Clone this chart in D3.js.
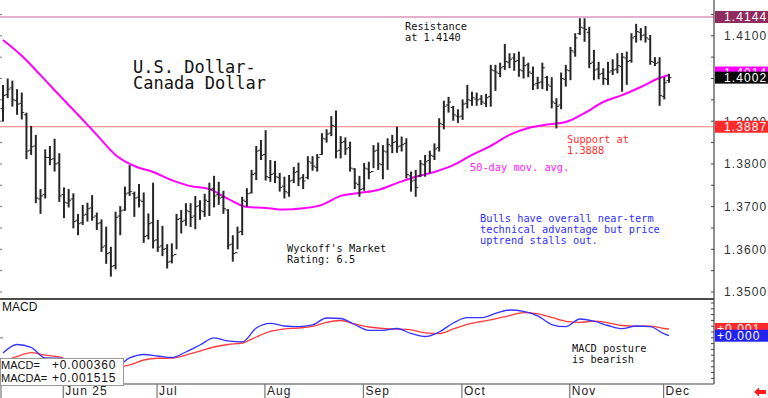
<!DOCTYPE html>
<html>
<head>
<meta charset="utf-8">
<script src="https://cdn.jsdelivr.net/npm/d3@7"></script>
<style>
body { margin: 0; background: #fff; }
svg { display: block; font-family: "Liberation Sans", Arial, sans-serif; }
.note { font-family: "DejaVu Sans Mono", monospace; font-size: 10.3px; }
.axis-label { font-size: 12px; letter-spacing: 1.1px; fill: #333; }
.box-label { font-size: 11px; letter-spacing: 0px; fill: #111; }
.box-value { font-size: 12px; letter-spacing: 0.8px; fill: #111; }
</style>
</head>
<body>
<svg width="768" height="398"></svg>
<script>
// daily OHLC bars, index 0 = mid May, last bar = Dec 2
var barHigh = [1.3985,1.4000,1.3995,1.3975,1.3967,1.3920,1.3889,1.3868,1.3741,1.3834,
  1.3842,1.3859,1.3825,1.3745,1.3741,1.3731,1.3683,1.3704,1.3709,1.3727,
  1.3686,1.3670,1.3653,1.3606,1.3688,1.3701,1.3747,1.3797,1.3735,1.3753,
  1.3733,1.3684,1.3756,1.3669,1.3655,1.3612,1.3614,1.3683,1.3692,1.3708,
  1.3708,1.3725,1.3715,1.3730,1.3756,1.3772,1.3758,1.3737,1.3694,1.3633,
  1.3653,1.3723,1.3743,1.3786,1.3842,1.3856,1.3879,1.3809,1.3807,1.3779,
  1.3770,1.3774,1.3793,1.3803,1.3776,1.3818,1.3818,1.3823,1.3872,1.3881,
  1.3912,1.3925,1.3865,1.3862,1.3852,1.3790,1.3772,1.3802,1.3805,1.3844,
  1.3850,1.3844,1.3860,1.3868,1.3887,1.3864,1.3860,1.3782,1.3786,1.3809,
  1.3821,1.3831,1.3848,1.3907,1.3948,1.3957,1.3936,1.3928,1.3951,1.3985,
  1.3969,1.3967,1.3961,1.3964,1.4032,1.4032,1.4037,1.4081,1.4059,1.4059,
  1.4063,1.4051,1.4037,1.4028,1.4004,1.4037,1.4006,1.4003,1.3954,1.4014,
  1.4032,1.4074,1.4106,1.4141,1.4141,1.4121,1.4067,1.4039,1.4024,1.4039,
  1.4045,1.4059,1.4060,1.4063,1.4106,1.4128,1.4118,1.4123,1.4102,1.4050,
  1.4050,1.4003,1.4011];
var barLow = [1.3899,1.3954,1.3934,1.3915,1.3904,1.3811,1.3821,1.3708,1.3683,1.3719,
  1.3797,1.3782,1.3711,1.3673,1.3698,1.3649,1.3633,1.3657,1.3665,1.3667,
  1.3645,1.3594,1.3566,1.3536,1.3553,1.3633,1.3690,1.3725,1.3676,1.3698,
  1.3615,1.3623,1.3602,1.3594,1.3584,1.3555,1.3567,1.3600,1.3637,1.3655,
  1.3652,1.3647,1.3669,1.3676,1.3678,1.3698,1.3704,1.3683,1.3600,1.3571,
  1.3600,1.3633,1.3700,1.3731,1.3762,1.3809,1.3761,1.3758,1.3755,1.3735,
  1.3719,1.3723,1.3755,1.3748,1.3741,1.3764,1.3784,1.3782,1.3821,1.3850,
  1.3865,1.3813,1.3813,1.3821,1.3782,1.3741,1.3723,1.3737,1.3764,1.3790,
  1.3786,1.3764,1.3786,1.3825,1.3826,1.3829,1.3766,1.3735,1.3723,1.3769,
  1.3770,1.3778,1.3809,1.3829,1.3881,1.3920,1.3901,1.3896,1.3903,1.3930,
  1.3936,1.3936,1.3938,1.3933,1.3934,1.3971,1.4003,1.4020,1.4024,1.4018,
  1.4004,1.4000,1.4003,1.3973,1.3975,1.3975,1.3971,1.3930,1.3883,1.3928,
  1.3981,1.3996,1.4051,1.4102,1.4086,1.4024,1.3996,1.3998,1.3985,1.3985,
  1.4008,1.4012,1.3969,1.3985,1.4037,1.4084,1.4089,1.4084,1.4032,1.4029,
  1.3936,1.3951,1.3990];
var barOpen = [1.3930,1.3962,1.3978,1.3948,1.3942,1.3915,1.3832,1.3842,1.3718,1.3728,
  1.3815,1.3812,1.3802,1.3728,1.3708,1.3718,1.3668,1.3662,1.3682,1.3697,
  1.3678,1.3662,1.3608,1.3592,1.3562,1.3678,1.3692,1.3732,1.3730,1.3722,
  1.3712,1.3632,1.3662,1.3622,1.3608,1.3602,1.3572,1.3588,1.3672,1.3668,
  1.3688,1.3678,1.3702,1.3688,1.3712,1.3742,1.3728,1.3722,1.3692,1.3612,
  1.3592,1.3642,1.3712,1.3732,1.3778,1.3832,1.3822,1.3768,1.3778,1.3768,
  1.3748,1.3732,1.3762,1.3782,1.3768,1.3768,1.3802,1.3792,1.3822,1.3858,
  1.3872,1.3888,1.3832,1.3852,1.3838,1.3788,1.3752,1.3742,1.3788,1.3782,
  1.3832,1.3798,1.3828,1.3842,1.3852,1.3842,1.3848,1.3772,1.3762,1.3772,
  1.3798,1.3808,1.3818,1.3838,1.3892,1.3938,1.3932,1.3912,1.3912,1.3942,
  1.3948,1.3952,1.3952,1.3942,1.3958,1.4018,1.4012,1.4028,1.4038,1.4048,
  1.4042,1.4018,1.4032,1.4012,1.3988,1.3992,1.4002,1.3982,1.3942,1.3938,
  1.3998,1.4018,1.4062,1.4105,1.4118,1.4108,1.4038,1.4022,1.4012,1.3998,
  1.4018,1.4022,1.4028,1.4048,1.4042,1.4098,1.4108,1.4102,1.4092,1.4038,
  1.4038,1.3958,1.3995];
var barClose = [1.3960,1.3975,1.3950,1.3940,1.3920,1.3830,1.3840,1.3720,1.3725,1.3815,
  1.3810,1.3800,1.3725,1.3710,1.3715,1.3665,1.3660,1.3680,1.3695,1.3675,
  1.3660,1.3605,1.3590,1.3560,1.3675,1.3690,1.3730,1.3735,1.3720,1.3715,
  1.3630,1.3660,1.3620,1.3605,1.3600,1.3570,1.3585,1.3670,1.3665,1.3690,
  1.3675,1.3700,1.3690,1.3715,1.3740,1.3725,1.3720,1.3695,1.3610,1.3590,
  1.3640,1.3715,1.3730,1.3775,1.3830,1.3820,1.3770,1.3775,1.3770,1.3745,
  1.3735,1.3760,1.3780,1.3765,1.3760,1.3805,1.3795,1.3815,1.3860,1.3870,
  1.3890,1.3830,1.3850,1.3835,1.3790,1.3755,1.3740,1.3790,1.3780,1.3830,
  1.3800,1.3830,1.3845,1.3850,1.3840,1.3845,1.3775,1.3760,1.3745,1.3800,
  1.3805,1.3820,1.3835,1.3895,1.3935,1.3945,1.3915,1.3910,1.3940,1.3950,
  1.3955,1.3950,1.3945,1.3955,1.4020,1.4015,1.4025,1.4040,1.4045,1.4040,
  1.4020,1.4030,1.4015,1.3985,1.3990,1.4025,1.3985,1.3945,1.3935,1.4000,
  1.4020,1.4065,1.4095,1.4120,1.4115,1.4035,1.4020,1.4010,1.4000,1.4015,
  1.4020,1.4030,1.4050,1.4040,1.4095,1.4110,1.4100,1.4095,1.4040,1.4035,
  1.3960,1.3990,1.4002];

// 50-day moving average, read every 4 bars
var maIndex = [0,4,8,12,16,20,24,28,32,36,40,44,48,52,56,60,64,68,72,76,80,84,88,92,96,100,
  104,108,112,116,120,124,128,132,136,140,142];
var maValue = [1.4090,1.4053,1.4008,1.3961,1.3915,1.3868,1.3821,1.3795,1.3781,1.3762,1.3748,
  1.3741,1.3718,1.3699,1.3697,1.3693,1.3696,1.3704,1.3725,1.3732,1.3739,1.3755,1.3770,1.3781,
  1.3797,1.3821,1.3842,1.3868,1.3884,1.3892,1.3898,1.3919,1.3945,1.3961,1.3980,1.4001,1.4008];

// MACD (blue) and its average (red), read every 3 bars
var macdIndex = [0,3,6,9,12,15,18,21,24,27,30,33,36,39,42,45,48,51,54,57,60,63,66,69,72,75,
  78,81,84,87,90,93,96,99,102,105,108,111,114,117,120,123,126,129,132,135,138,141,142];
var macdValue = [-0.00262,-0.00116,-0.00167,-0.00348,-0.00353,-0.00400,-0.00469,-0.00521,-0.00503,
  -0.00348,-0.00288,-0.00314,-0.00340,-0.00245,-0.00124,-0.00003,-0.00055,-0.00072,0.00169,
  0.00250,0.00203,0.00191,0.00221,0.00341,0.00333,0.00229,0.00129,0.00129,0.00160,0.00074,
  0.00022,0.00100,0.00255,0.00347,0.00347,0.00419,0.00479,0.00457,0.00379,0.00229,0.00191,
  0.00324,0.00286,0.00212,0.00157,0.00203,0.00191,0.00066,0.00036];
var macdAvgValue = [-0.00417,-0.00322,-0.00257,-0.00300,-0.00331,-0.00417,-0.00469,-0.00503,-0.00512,
  -0.00469,-0.00383,-0.00353,-0.00352,-0.00297,-0.00228,-0.00159,-0.00116,-0.00090,0.00014,
  0.00109,0.00155,0.00169,0.00195,0.00267,0.00298,0.00238,0.00186,0.00160,0.00152,0.00138,
  0.00083,0.00072,0.00152,0.00233,0.00281,0.00328,0.00384,0.00433,0.00414,0.00350,0.00284,
  0.00267,0.00286,0.00259,0.00212,0.00198,0.00200,0.00160,0.001515];

var monthLabels = ["Jun 25", "Jul", "Aug", "Sep", "Oct", "Nov", "Dec"];
var monthIndex = [13, 33, 56, 77, 98, 121, 141];
var priceTicks = [1.35, 1.36, 1.37, 1.38, 1.39, 1.41];   // 1.40 sits under the last price tag

var resistance = 1.4144, support = 1.3887, lastClose = 1.4002, lastMa = 1.4014;
var lastMacd = 0.000360, lastMacdAvg = 0.001515;

var svg = d3.select("svg"),
    plotRight = 714,
    priceBottom = 297,
    macdTop = 299,
    macdBottom = 384;

var x = d3.scaleLinear().domain([-0.64, 151.6]).range([0, plotRight]);
var y = d3.scaleLinear().domain([1.34883, 1.41838]).range([priceBottom, 0]);
var yMacd = d3.scaleLinear().domain([-0.00797, 0.00669]).range([macdBottom, macdTop]);

svg.append("rect").attr("width", 768).attr("height", 398).attr("fill", "#fff");

var defs = svg.append("defs");
defs.append("clipPath").attr("id", "clipPrice")
  .append("rect").attr("width", plotRight).attr("height", priceBottom);
defs.append("clipPath").attr("id", "clipMacd")
  .append("rect").attr("y", macdTop).attr("width", plotRight).attr("height", macdBottom - macdTop);

// support / resistance
var price = svg.append("g").attr("clip-path", "url(#clipPrice)");
price.append("line")
    .attr("x1", 0).attr("x2", plotRight)
    .attr("y1", y(resistance)).attr("y2", y(resistance))
    .attr("stroke", "#c8649c").attr("stroke-width", 1.2);
price.append("line")
    .attr("x1", 0).attr("x2", plotRight)
    .attr("y1", y(support)).attr("y2", y(support))
    .attr("stroke", "#ff7a7a").attr("stroke-width", 1.2);

// moving average
var maPoints = maIndex.map(function(d, i) { return { i: d, v: maValue[i] }; });
price.append("path")
    .datum(maPoints)
    .attr("fill", "none")
    .attr("stroke", "#ff00ff")
    .attr("stroke-width", 2)
    .attr("d", d3.line()
      .x(function(d) { return x(d.i); })
      .y(function(d) { return y(d.v); })
      .curve(d3.curveMonotoneX));

// price bars
var bars = barHigh.map(function(h, i) {
  return { i: i, h: h, l: barLow[i], o: barOpen[i], c: barClose[i] };
});
var bar = price.append("g")
    .attr("stroke", "#262626")
  .selectAll("g")
  .data(bars)
  .enter().append("g");
bar.append("line")
    .attr("stroke-width", 2)
    .attr("x1", function(d) { return x(d.i); })
    .attr("x2", function(d) { return x(d.i); })
    .attr("y1", function(d) { return y(d.h); })
    .attr("y2", function(d) { return y(d.l); });
bar.append("line")
    .attr("stroke-width", 1)
    .attr("x1", function(d) { return x(d.i) - 2.5; })
    .attr("x2", function(d) { return x(d.i); })
    .attr("y1", function(d) { return y(d.o); })
    .attr("y2", function(d) { return y(d.o); });
bar.append("line")
    .attr("stroke-width", 1)
    .attr("x1", function(d) { return x(d.i); })
    .attr("x2", function(d) { return x(d.i) + 2.5; })
    .attr("y1", function(d) { return y(d.c); })
    .attr("y2", function(d) { return y(d.c); });

// MACD panel
var macd = svg.append("g").attr("clip-path", "url(#clipMacd)");
function macdLine(values, color) {
  var pts = macdIndex.map(function(d, i) { return { i: d, v: values[i] }; });
  macd.append("path")
      .datum(pts)
      .attr("fill", "none")
      .attr("stroke", color)
      .attr("stroke-width", 1.3)
      .attr("d", d3.line()
        .x(function(d) { return x(d.i); })
        .y(function(d) { return yMacd(d.v); })
        .curve(d3.curveMonotoneX));
}
macdLine(macdAvgValue, "#ff3b3b");
macdLine(macdValue, "#3434ff");

// frame
svg.append("line").attr("x1", 0).attr("x2", plotRight).attr("y1", 299).attr("y2", 299)
    .attr("stroke", "#111").attr("stroke-width", 1.6);
svg.append("line").attr("x1", 0).attr("x2", plotRight).attr("y1", macdBottom).attr("y2", macdBottom)
    .attr("stroke", "#444").attr("stroke-width", 1.2);
svg.append("line").attr("x1", plotRight).attr("x2", plotRight).attr("y1", 0).attr("y2", macdBottom)
    .attr("stroke", "#444").attr("stroke-width", 1.2);

// price axis ticks (right edge and left edge)
var minorTicks = d3.range(1.350, 1.4181, 0.005);
svg.append("g").selectAll("line").data(minorTicks).enter().append("line")
    .attr("x1", plotRight - 3).attr("x2", plotRight)
    .attr("y1", function(d) { return y(d); }).attr("y2", function(d) { return y(d); })
    .attr("stroke", "#444");
svg.append("g").selectAll("line").data(minorTicks).enter().append("line")
    .attr("x1", 0).attr("x2", 2)
    .attr("y1", function(d) { return y(d); }).attr("y2", function(d) { return y(d); })
    .attr("stroke", "#777");
svg.append("g").selectAll("text").data(priceTicks).enter().append("text")
    .attr("class", "axis-label")
    .attr("x", 724)
    .attr("y", function(d) { return y(d); })
    .attr("dy", "0.36em")
    .text(function(d) { return d.toFixed(4); });

var macdTicks = d3.range(-0.007, 0.0065, 0.001);
svg.append("g").selectAll("line").data(macdTicks).enter().append("line")
    .attr("x1", plotRight - 3).attr("x2", plotRight)
    .attr("y1", function(d) { return yMacd(d); }).attr("y2", function(d) { return yMacd(d); })
    .attr("stroke", "#444");
svg.append("line").attr("x1", 0).attr("x2", 3)
    .attr("y1", yMacd(0)).attr("y2", yMacd(0)).attr("stroke", "#777");

// last value tags
function tag(value, scale, color, label, textX) {
  var cy = scale(value);
  svg.append("rect")
      .attr("x", plotRight + 1).attr("y", cy - 6)
      .attr("width", 768 - plotRight - 1).attr("height", 12)
      .attr("fill", color);
  svg.append("text")
      .attr("class", "axis-label")
      .attr("x", textX).attr("y", cy).attr("dy", "0.36em")
      .style("fill", "#fff")
      .text(label);
}
tag(resistance, y, "#8e2c5e", resistance.toFixed(4), 724);
tag(lastMa, y, "#ff00ff", lastMa.toFixed(4), 724);
tag(lastClose, y, "#0a0a0a", lastClose.toFixed(4), 724);
tag(support, y, "#ff2a2a", support.toFixed(4), 724);
tag(lastMacdAvg, yMacd, "#ff2a2a", "+" + (Math.floor(lastMacdAvg * 1000) / 1000).toFixed(3), 717);
tag(lastMacd, yMacd, "#2222ee", "+" + (Math.floor(lastMacd * 1000) / 1000).toFixed(3), 717);

// month axis
var months = svg.append("g").selectAll("g")
    .data(monthLabels)
    .enter().append("g")
    .attr("transform", function(d, i) { return "translate(" + x(monthIndex[i] - 0.15) + ",0)"; });
months.append("line")
    .attr("y1", macdBottom).attr("y2", 398)
    .attr("stroke", "#777").attr("stroke-width", 1.2);
months.append("text")
    .attr("class", "axis-label")
    .attr("x", 2).attr("y", 395)
    .style("fill", "#222")
    .text(function(d) { return d; });
svg.append("line").attr("x1", 1).attr("x2", 1).attr("y1", macdBottom).attr("y2", 398)
    .attr("stroke", "#777").attr("stroke-width", 1.2);

// red arrow bottom right
svg.append("path")
    .attr("d", "M754,392 L759,387.5 L759,390 L766,390 L766,394 L759,394 L759,396.5 Z")
    .attr("fill", "#ff1a1a");

// MACD value box
svg.append("rect")
    .attr("x", 0.5).attr("y", 358.5).attr("width", 123).attr("height", 27)
    .attr("fill", "#fff").attr("stroke", "#999");
svg.append("text").attr("class", "box-label").attr("x", 1).attr("y", 369).text("MACD=");
svg.append("text").attr("class", "box-value").attr("x", 52).attr("y", 369).text("+" + lastMacd.toFixed(6));
svg.append("text").attr("class", "box-label").attr("x", 1).attr("y", 381.5).text("MACDA=");
svg.append("text").attr("class", "box-value").attr("x", 52).attr("y", 381.5).text("+" + lastMacdAvg.toFixed(6));
svg.append("text").attr("class", "box-label").attr("x", 2).attr("y", 311).style("font-size", "12px").text("MACD");

// annotations
function note(lines, xPos, yPos, color, size) {
  var t = svg.append("text")
      .attr("class", "note")
      .attr("fill", color);
  if (size) t.style("font-size", size + "px");
  lines.forEach(function(line, i) {
    t.append("tspan").attr("x", xPos).attr("y", yPos + i * (size ? 16.3 : 11.2)).text(line);
  });
}
note(["U.S. Dollar-", "Canada Dollar"], 133, 73, "#111", 17);
note(["Resistance", "at 1.4140"], 405, 29.5, "#111");
note(["Support at", "1.3888"], 567, 143, "#ff3030");
note(["50-day mov. avg."], 470, 170.5, "#ff22ff");
note(["Bulls have overall near-term", "technical advantage but price", "uptrend stalls out."], 480, 222, "#2f2fff");
note(["Wyckoff's Market", "Rating: 6.5"], 287, 252, "#111");
note(["MACD posture", "is bearish"], 572, 352, "#111");
</script>
</body>
</html>
